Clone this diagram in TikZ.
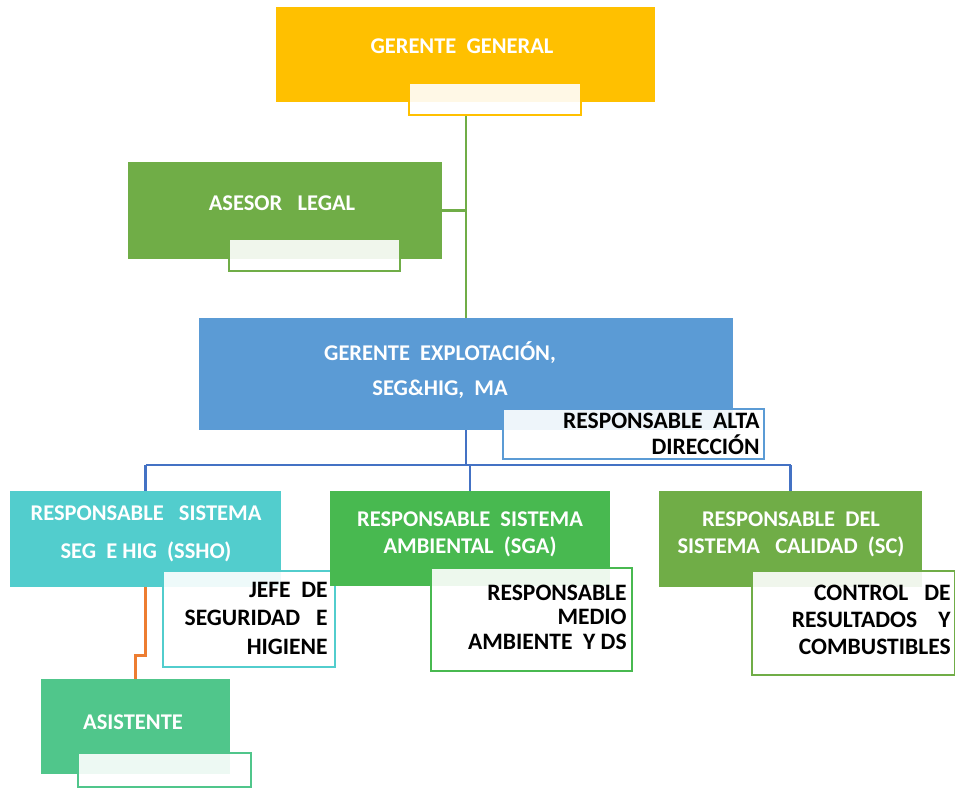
\documentclass[tikz,border=0pt]{standalone}
\usepackage{fontspec}
\setmainfont{Carlito}
\usetikzlibrary{fit,positioning}
\definecolor{oro}{HTML}{FFC000}
\definecolor{verde}{HTML}{70AD47}
\definecolor{azul}{HTML}{5B9BD5}
\definecolor{azulosc}{HTML}{4472C4}
\definecolor{turq}{HTML}{52CDCD}
\definecolor{verdeb}{HTML}{48B950}
\definecolor{menta}{HTML}{50C68B}
\definecolor{naranja}{HTML}{ED7D31}

\begin{document}
\begin{tikzpicture}[x=0.02cm, y=-0.02cm,
 blk/.style={fill=#1, inner sep=0},
 sub/.style={draw=#1, line width=1.1pt, fill=white, fill opacity=0.9, inner sep=0},
 wt/.style={text=white, align=center, font=\bfseries\fontsize{12.8}{#1}\selectfont},
 bk/.style={text=black, align=right, anchor=east, inner sep=0, font=\bfseries\fontsize{13.4}{#1}\selectfont},
 ln/.style={line width=1.3pt, draw=#1}]
\useasboundingbox (0,0) rectangle (955,787);

% cajas
\node[blk=oro, fit={(276,7) (655,102)}] (gg) {};
\node[sub=oro, fit={(409,83) (581,115)}] (ggs) {};
\node[wt=15] (ggt) at (462,46) {GERENTE\ \ GENERAL};

\node[blk=verde, fit={(128,162) (442,259)}] (al) {};
\node[sub=verde, fit={(229,239) (400,271)}] (als) {};
\node[wt=15] (alt) at (282,203) {ASESOR\ \ \ LEGAL};

\node[blk=azul, fit={(199,318) (733,430)}] (ge) {};
\node[sub=azul, fit={(503,409) (764,459)}] (ges) {};
\node[wt=20.4] (get) at (440,370) {GERENTE\ \ EXPLOTACIÓN,\\SEG\&HIG,\ \ MA};
\node[bk=14.7] (gest) at (760,434) {RESPONSABLE\ \ ALTA\\DIRECCIÓN};

\node[blk=turq, fit={(10,491) (281,587)}] (ss) {};
\node[sub=turq, fit={(163,571) (335,667)}] (sss) {};
\node[wt=21.5] (sst) at (146,534) {RESPONSABLE\ \ \ SISTEMA\\SEG\ \ E HIG\ \ (SSHO)};
\node[bk=16.2] (ssst) at (328,618) {JEFE\ \ DE\\SEGURIDAD\ \ \ E\\HIGIENE};

\node[blk=verdeb, fit={(330,491) (610,586)}] (sa) {};
\node[sub=verdeb, fit={(431,568) (632,671)}] (sas) {};
\node[wt=15.3] (sat) at (470,534) {RESPONSABLE\ \ SISTEMA\\AMBIENTAL\ \ (SGA)};
\node[bk=13.9] (sast) at (627,617) {RESPONSABLE\\MEDIO\\AMBIENTE\ \ Y DS};

\node[blk=verde, fit={(659,491) (922,587)}] (sc) {};
\node[sub=verde, fit={(752,571) (955,675)}] (scs) {};
\node[wt=15.3] (sct) at (791,534) {RESPONSABLE\ \ DEL\\SISTEMA\ \ \ CALIDAD\ \ (SC)};
\node[bk=15.3] (scst) at (951,620) {CONTROL\ \ \ DE\\RESULTADOS\ \ \ \ Y\\COMBUSTIBLES\ };

\node[blk=menta, fit={(41,679) (230,774)}] (as) {};
\node[sub=menta, fit={(78,753) (251,787)}] (ass) {};
\node[wt=15] (ast) at (133,722) {ASISTENTE};

% lineas
\draw[ln=verde] (ge.north |- ggs.south) -- (ge.north);
\draw[ln=verde] (al.east) -- (al.east -| ge.north);
\coordinate (bj) at (466,465);
\draw[ln=azulosc] (ge.south) -- (bj);
\draw[ln=azulosc] (ss.north |- bj) -- (sc.north |- bj);
\foreach \n in {ss,sa,sc}{\draw[ln=azulosc] (\n.north |- bj) -- (\n.north);}
\draw[ln=naranja] (ss.south) -- ++(0,68) -| (as.north);
\end{tikzpicture}
\end{document}
